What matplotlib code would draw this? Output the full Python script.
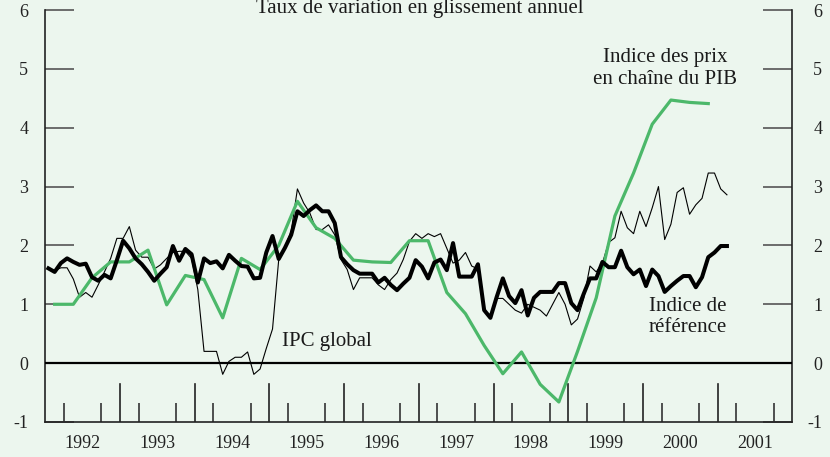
import numpy as np
import matplotlib
matplotlib.use("Agg")
import matplotlib.pyplot as plt
import matplotlib.transforms as mtransforms

plt.rcParams['font.family'] = ['Liberation Serif', 'DejaVu Serif']

# --- données (glissement annuel, %) ---
# IPC global, mensuel, janv. 1992 -> févr. 2001
ipc_global = [1.62, 1.57, 1.62, 1.62, 1.43, 1.12, 1.20, 1.12, 1.33, 1.55,
              1.78, 2.12, 2.12, 2.32, 1.92, 1.80, 1.80, 1.60, 1.67, 1.78,
              1.88, 1.90, 1.90, 1.78, 1.25, 0.20, 0.20, 0.20, -0.19, 0.03,
              0.10, 0.10, 0.19, -0.19, -0.10, 0.25, 0.58, 1.76, 1.98, 2.24,
              2.96, 2.72, 2.55, 2.27, 2.27, 2.35, 2.18, 1.76, 1.59, 1.25,
              1.45, 1.45, 1.45, 1.33, 1.25, 1.42, 1.53, 1.76, 2.07, 2.20,
              2.12, 2.20, 2.15, 2.20, 1.95, 1.70, 1.75, 1.88, 1.65, 1.60,
              0.90, 0.80, 1.10, 1.10, 1.00, 0.90, 0.85, 1.00, 0.95, 0.90,
              0.80, 1.00, 1.20, 1.00, 0.65, 0.75, 1.10, 1.65, 1.55, 1.70,
              2.05, 2.13, 2.58, 2.30, 2.20, 2.58, 2.32, 2.64, 3.00, 2.10,
              2.36, 2.90, 2.98, 2.53, 2.69, 2.80, 3.23, 3.23, 2.96, 2.86]

# Indice de référence, mensuel
indice_ref = [1.61, 1.55, 1.70, 1.78, 1.72, 1.67, 1.69, 1.46, 1.40, 1.50,
              1.44, 1.75, 2.08, 1.95, 1.78, 1.68, 1.55, 1.40, 1.52, 1.63,
              1.99, 1.74, 1.94, 1.85, 1.37, 1.78, 1.70, 1.73, 1.61, 1.84,
              1.74, 1.65, 1.64, 1.44, 1.45, 1.88, 2.16, 1.77, 1.96, 2.18,
              2.58, 2.50, 2.60, 2.68, 2.58, 2.58, 2.38, 1.80, 1.68, 1.58,
              1.52, 1.52, 1.52, 1.37, 1.45, 1.33, 1.24, 1.35, 1.45, 1.75,
              1.64, 1.44, 1.71, 1.76, 1.58, 2.04, 1.47, 1.47, 1.47, 1.68,
              0.90, 0.77, 1.12, 1.44, 1.14, 1.02, 1.24, 0.81, 1.11, 1.21,
              1.21, 1.21, 1.36, 1.36, 1.02, 0.90, 1.18, 1.44, 1.44, 1.72,
              1.63, 1.63, 1.91, 1.63, 1.51, 1.59, 1.31, 1.59, 1.48, 1.21,
              1.31, 1.40, 1.48, 1.48, 1.29, 1.46, 1.80, 1.88, 1.99, 1.99]

# Indice des prix en chaîne du PIB, trimestriel, 1992T1 -> 2000T4
pib_chaine = [1.00, 1.00, 1.45, 1.72, 1.72, 1.92, 0.99, 1.49, 1.42, 0.77,
              1.78, 1.59, 2.00, 2.75, 2.30, 2.12, 1.75, 1.72, 1.71, 2.08,
              2.08, 1.20, 0.84, 0.30, -0.18, 0.19, -0.36, -0.66, 0.20, 1.11,
              2.50, 3.23, 4.06, 4.47, 4.43, 4.41]

annees = list(range(1992, 2002))
yticks = [-1, 0, 1, 2, 3, 4, 5, 6]

# positions dans le temps (milieu du mois / du trimestre)
t_mois = 1992 + (np.arange(len(indice_ref)) + 0.5) / 12
t_trim = 1992 + (np.arange(len(pib_chaine)) * 3 + 1.5) / 12

bg = '#ecf6ee'
green = '#4cb86a'

fig = plt.figure(figsize=(8.3, 4.57), dpi=100, facecolor=bg)
ax = fig.add_axes([45.3 / 830, 1 - 422 / 457, (792.3 - 45.3) / 830, 412 / 457])
ax.set_facecolor(bg)

ax.axhline(0, color='black', lw=1.6, zorder=2.6)
ax.plot(t_mois, ipc_global, color='black', lw=0.8, zorder=2.7)
ax.plot(t_trim, pib_chaine, color=green, lw=2.3, zorder=3)
ax.plot(t_mois, indice_ref, color='black', lw=2.9, zorder=4)

ax.set_xlim(1992, 2002)
ax.set_ylim(-1, 6)

# cadre
for s in ['left', 'right', 'bottom']:
    ax.spines[s].set_linewidth(1.2)
    ax.spines[s].set_color('#222222')
ax.spines['top'].set_visible(False)

# axe vertical, graduations des deux côtés
ax.set_yticks(yticks)
ax.set_yticklabels([str(v) for v in yticks])
ax.tick_params(axis='y', direction='in', length=21, width=1.2, color='#555555',
               left=True, right=True, labelleft=True, labelright=True,
               labelsize=13, labelcolor='#222222', pad=12.3)
# étiquettes de droite alignées à droite, ~30 px après le cadre
off = mtransforms.ScaledTranslation(30 / 100 - 12.3 / 72, 0, fig.dpi_scale_trans)
for tk in ax.yaxis.get_major_ticks():
    tk.label2.set_horizontalalignment('right')
    tk.label2.set_transform(tk.label2.get_transform() + off)

# années : étiquettes au milieu, traits aux limites, trimestres
ax.set_xticks([a + 0.5 for a in annees])
ax.set_xticklabels([str(a) for a in annees])
ax.tick_params(axis='x', which='major', length=0, labelsize=13,
               labelcolor='#222222', pad=9)
quarts = [a + q / 4 for a in annees for q in (1, 2, 3)]
ax.set_xticks(quarts, minor=True)
ax.tick_params(axis='x', which='minor', direction='in', length=13.7,
               width=1.2, color='#333333')
for a in annees[1:]:
    ax.axvline(a, ymin=0, ymax=38 / 412, color='#222222', lw=1.2, zorder=1)

ax.text(1995.77, 0.37, 'IPC global', fontsize=15, ha='center', va='center',
        color='#1a1a1a')
ax.text(2000.30, 5.0, 'Indice des prix\nen chaîne du PIB', fontsize=15,
        ha='center', va='center', color='#1a1a1a', linespacing=1.2)
ax.text(2000.60, 0.78, 'Indice de\nréférence', fontsize=15, ha='center',
        va='center', color='#1a1a1a', linespacing=1.15)

fig.text(420 / 830, 1 - 13 / 457, 'Taux de variation en glissement annuel',
         fontsize=15, ha='center', va='baseline', color='#1a1a1a')

fig.savefig('out.png', dpi=100, facecolor=bg)
